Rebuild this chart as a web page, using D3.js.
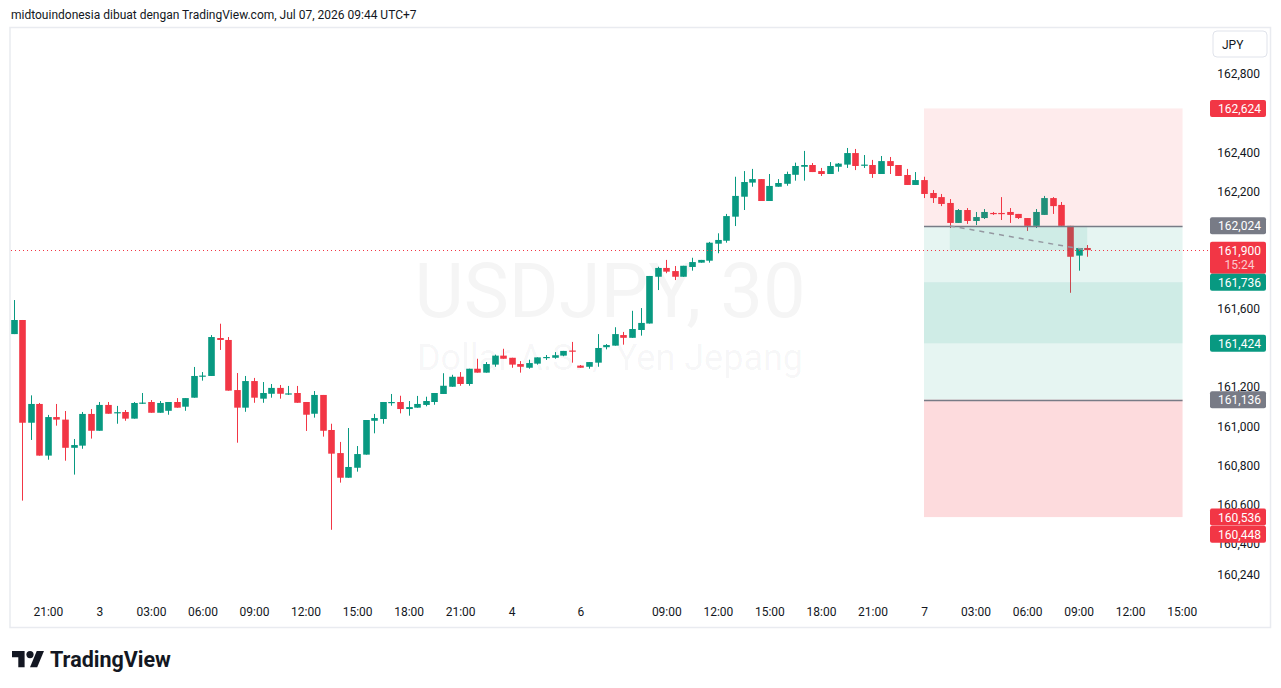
<!DOCTYPE html>
<html>
<head>
<meta charset="utf-8">
<script src="https://cdn.jsdelivr.net/npm/d3@7/dist/d3.min.js"></script>
<style>
  html, body { margin: 0; padding: 0; background: #fff; }
  svg { display: block; font-family: Roboto, "Noto Sans", sans-serif; }
</style>
</head>
<body>
<svg id="chart" width="1281" height="688"></svg>
<script>
'use strict';

// ── Data: USDJPY 30m candles, bar 0 = Jul 2 19:00 (UTC+7) ─────────────────
const opens  = [161.471,161.543,161.018,161.114,160.850,161.047,161.034,160.890,160.901,161.063,
                160.977,161.109,161.068,161.073,161.039,161.117,161.124,161.069,161.079,161.124,
                161.100,161.146,161.255,161.257,161.451,161.441,161.185,161.095,161.231,161.141,
                161.166,161.196,161.164,161.170,161.124,161.064,161.160,160.981,160.863,160.737,
                160.788,160.855,161.028,161.037,161.121,161.124,161.088,161.095,161.109,161.124,
                161.165,161.202,161.253,161.216,161.294,161.274,161.315,161.361,161.350,161.318,
                161.299,161.320,161.350,161.350,161.361,161.387,161.310,161.304,161.325,161.404,
                161.412,161.466,161.452,161.492,161.525,161.764,161.809,161.793,161.764,161.814,
                161.836,161.846,161.933,161.948,162.071,162.173,162.245,162.263,162.151,162.224,
                162.239,162.285,162.326,162.335,162.304,162.289,162.326,162.337,162.396,162.333,
                162.335,162.289,162.355,162.335,162.284,162.233,162.258,162.192,162.171,162.141,
                162.039,162.105,162.049,162.064,162.090,162.090,162.095,162.085,162.064,162.024,
                162.080,162.166,162.131,162.024,161.872,161.911];
const highs  = [161.645,161.543,161.158,161.119,161.058,161.114,161.078,160.935,161.073,161.088,
                161.124,161.124,161.104,161.083,161.124,161.170,161.134,161.129,161.124,161.144,
                161.144,161.303,161.277,161.466,161.524,161.456,161.272,161.257,161.247,161.226,
                161.216,161.211,161.206,161.206,161.124,161.180,161.160,161.013,160.920,160.991,
                160.899,161.032,161.063,161.124,161.165,161.156,161.129,161.155,161.151,161.170,
                161.271,161.263,161.277,161.294,161.345,161.328,161.366,161.396,161.350,161.333,
                161.340,161.352,161.364,161.379,161.385,161.431,161.313,161.328,161.471,161.420,
                161.506,161.482,161.590,161.604,161.768,161.815,161.850,161.819,161.820,161.861,
                161.850,161.942,161.986,162.085,162.275,162.304,162.315,162.263,162.289,162.263,
                162.301,162.347,162.407,162.345,162.320,162.350,162.345,162.422,162.417,162.386,
                162.361,162.381,162.376,162.335,162.315,162.299,162.275,162.207,162.187,162.161,
                162.110,162.115,162.095,162.110,162.095,162.171,162.115,162.085,162.064,162.110,
                162.177,162.171,162.146,162.024,161.911,161.926];
const lows   = [161.471,160.620,160.930,160.850,160.829,161.003,160.824,160.753,160.885,160.937,
                160.977,161.064,161.013,161.028,161.039,161.114,161.069,161.069,161.059,161.095,
                161.079,161.146,161.233,161.257,161.390,161.182,160.916,161.074,161.120,161.120,
                161.146,161.141,161.160,161.120,160.976,161.044,160.947,160.471,160.712,160.737,
                160.768,160.855,160.964,161.013,161.105,161.066,161.054,161.095,161.102,161.110,
                161.165,161.202,161.207,161.207,161.274,161.274,161.304,161.345,161.299,161.274,
                161.294,161.315,161.339,161.345,161.358,161.325,161.299,161.294,161.304,161.393,
                161.412,161.417,161.452,161.463,161.525,161.696,161.782,161.747,161.764,161.795,
                161.836,161.836,161.884,161.938,162.023,162.105,162.224,162.151,162.151,162.224,
                162.229,162.255,162.255,162.299,162.279,162.289,162.301,162.320,162.309,162.320,
                162.269,162.289,162.289,162.279,162.233,162.233,162.166,162.141,162.125,162.013,
                162.039,162.034,162.028,162.059,162.080,162.054,162.039,162.059,161.998,162.013,
                162.080,162.085,162.024,161.682,161.795,161.866];
const closes = [161.543,161.018,161.114,160.850,161.047,161.034,160.890,160.904,161.063,160.977,
                161.109,161.064,161.072,161.039,161.119,161.121,161.069,161.119,161.124,161.095,
                161.144,161.257,161.259,161.456,161.441,161.182,161.095,161.231,161.146,161.170,
                161.196,161.166,161.168,161.120,161.059,161.160,160.977,160.860,160.737,160.792,
                160.858,161.032,161.042,161.124,161.124,161.088,161.098,161.114,161.129,161.170,
                161.207,161.253,161.216,161.294,161.274,161.318,161.361,161.345,161.315,161.304,
                161.323,161.352,161.354,161.363,161.385,161.383,161.299,161.328,161.400,161.415,
                161.471,161.452,161.497,161.528,161.768,161.809,161.790,161.764,161.820,161.839,
                161.850,161.938,161.952,162.074,162.177,162.248,162.263,162.151,162.228,162.243,
                162.289,162.330,162.335,162.299,162.289,162.330,162.342,162.396,162.330,162.337,
                162.289,162.355,162.330,162.279,162.233,162.258,162.187,162.166,162.136,162.039,
                162.105,162.049,162.069,162.095,162.086,162.086,162.080,162.064,162.024,162.095,
                162.166,162.125,162.024,161.866,161.911,161.900];

const timeTickIdx    = [4, 10, 16, 22, 28, 34, 40, 46, 52, 58, 66, 76, 82, 88, 94, 100, 106, 112, 118, 124, 130, 136];
const timeTickLabels = ['21:00','3','03:00','06:00','09:00','12:00','15:00','18:00','21:00','4','6',
                        '09:00','12:00','15:00','18:00','21:00','7','03:00','06:00','09:00','12:00','15:00'];
const priceTicks     = [162.8, 162.4, 162.2, 161.6, 161.2, 161.0, 160.8, 160.6, 160.4, 160.24];

// position tools (short above, long below) spanning bars 106 → 136
const shortPos   = { entry: 162.024, stop: 162.624, target: 161.424 };
const longPos    = { entry: 161.136, stop: 160.536, target: 161.736 };
const posBars    = [106, 136.1];
const tradeBars  = [109, 125];
const lastPrice  = 161.900;
const countdown  = '15:24';
const extraLabel = 160.448;

const GREEN = '#089981', RED = '#f23645', GREY = '#787b86', TEXT = '#131722';
const fmt = v => d3.format('.3f')(v).replace('.', ',');

// ── Layout ────────────────────────────────────────────────────────────────
const svg = d3.select('#chart');
svg.append('rect').attr('width', 1281).attr('height', 688).attr('fill', '#fff');

const x = d3.scaleLinear().domain([0, 136]).range([13.5, 1181.7]);
const y = d3.scaleLinear().domain([160.24, 162.8]).range([575, 74]);

svg.append('defs').append('clipPath').attr('id', 'pane')
  .append('rect').attr('x', 11).attr('y', 28).attr('width', 1199).attr('height', 570);

svg.append('text')
  .attr('x', 11).attr('y', 19)
  .attr('font-size', 12).attr('fill', TEXT)
  .text('midtouindonesia dibuat dengan TradingView.com, Jul 07, 2026 09:44 UTC+7');

// chart frame
svg.append('rect')
  .attr('x', 10).attr('y', 27.5).attr('width', 1260.5).attr('height', 600)
  .attr('fill', 'none').attr('stroke', '#e9ebf0').attr('stroke-width', 1.5);

const pane = svg.append('g').attr('clip-path', 'url(#pane)');

// watermark
pane.append('text')
  .attr('x', 610).attr('y', 317).attr('text-anchor', 'middle')
  .attr('font-size', 76).attr('fill', 'rgba(19,23,34,0.045)')
  .text('USDJPY, 30');
pane.append('text')
  .attr('x', 610).attr('y', 370).attr('text-anchor', 'middle')
  .attr('font-size', 36).attr('fill', 'rgba(19,23,34,0.045)')
  .text('Dollar A.S. / Yen Jepang');

// ── Candles ───────────────────────────────────────────────────────────────
const bars = opens.map((o, i) => ({ i, o, h: highs[i], l: lows[i], c: closes[i] }));
const cg = pane.append('g');
cg.selectAll('line')
  .data(bars).join('line')
  .attr('x1', d => Math.round(x(d.i)) + 0.5).attr('x2', d => Math.round(x(d.i)) + 0.5)
  .attr('y1', d => y(d.h)).attr('y2', d => y(d.l))
  .attr('stroke', d => d.c >= d.o ? GREEN : RED).attr('stroke-width', 1);
cg.selectAll('rect')
  .data(bars).join('rect')
  .attr('x', d => Math.round(x(d.i)) + 0.5 - 3.3).attr('width', 6.6)
  .attr('y', d => y(Math.max(d.o, d.c)))
  .attr('height', d => Math.max(1.2, Math.abs(y(d.o) - y(d.c))))
  .attr('fill', d => d.c >= d.o ? GREEN : RED);

// ── Position zones (drawn over candles, translucent) ─────────────────────
const zx0 = x(posBars[0]), zx1 = x(posBars[1]);
function zone(p1, p2, fill) {
  pane.append('rect')
    .attr('x', zx0).attr('width', zx1 - zx0)
    .attr('y', y(Math.max(p1, p2))).attr('height', Math.abs(y(p1) - y(p2)))
    .attr('fill', fill);
}
zone(shortPos.entry, shortPos.stop, 'rgba(242,54,69,0.1)');
zone(shortPos.entry, shortPos.target, 'rgba(8,153,129,0.1)');
zone(longPos.entry, longPos.target, 'rgba(8,153,129,0.1)');
zone(longPos.entry, longPos.stop, 'rgba(242,54,69,0.18)');

// realised part of the short trade
pane.append('rect')
  .attr('x', x(tradeBars[0])).attr('width', x(tradeBars[1]) - x(tradeBars[0]))
  .attr('y', y(shortPos.entry)).attr('height', y(lastPrice) - y(shortPos.entry))
  .attr('fill', 'rgba(8,153,129,0.1)');

[shortPos.entry, longPos.entry].forEach(p => {
  pane.append('line')
    .attr('x1', zx0).attr('x2', zx1).attr('y1', Math.round(y(p)) + 0.5).attr('y2', Math.round(y(p)) + 0.5)
    .attr('stroke', GREY).attr('stroke-width', 1.5);
});

pane.append('line')
  .attr('x1', x(tradeBars[0])).attr('y1', y(shortPos.entry))
  .attr('x2', x(tradeBars[1])).attr('y2', y(lastPrice))
  .attr('stroke', '#9598a1').attr('stroke-width', 1.5).attr('stroke-dasharray', '5,5');

// current price line
svg.append('line')
  .attr('x1', 11).attr('x2', 1210)
  .attr('y1', Math.round(y(lastPrice)) + 0.5).attr('y2', Math.round(y(lastPrice)) + 0.5)
  .attr('stroke', RED).attr('stroke-width', 1).attr('stroke-dasharray', '1,3');

// ── Axes ──────────────────────────────────────────────────────────────────
const yAxis = svg.append('g').attr('transform', 'translate(1260,0)')
  .call(d3.axisLeft(y).tickValues(priceTicks).tickSize(0).tickPadding(0).tickFormat(fmt));
yAxis.select('.domain').remove();
yAxis.selectAll('text').attr('font-family', 'Roboto, sans-serif').attr('font-size', 12).attr('fill', TEXT);

const xAxis = svg.append('g').attr('transform', 'translate(0,607)')
  .call(d3.axisBottom(x).tickValues(timeTickIdx).tickSize(0).tickPadding(0)
    .tickFormat((d, i) => timeTickLabels[i]));
xAxis.select('.domain').remove();
xAxis.selectAll('text').attr('font-family', 'Roboto, sans-serif').attr('font-size', 12).attr('fill', TEXT);

// JPY button
svg.append('rect')
  .attr('x', 1213).attr('y', 31).attr('width', 54).attr('height', 26).attr('rx', 4)
  .attr('fill', '#fff').attr('stroke', '#e0e3eb');
svg.append('text')
  .attr('x', 1222).attr('y', 48.5).attr('font-size', 12).attr('fill', TEXT).text('JPY');

// ── Price labels on the axis ──────────────────────────────────────────────
function priceLabel(p, bg, h) {
  const yc = y(p);
  svg.append('rect')
    .attr('x', 1210).attr('y', yc - 8.5).attr('width', 56).attr('height', h || 17).attr('rx', 2)
    .attr('fill', bg);
  svg.append('text')
    .attr('x', 1239.5).attr('y', yc + 0.5).attr('text-anchor', 'middle').attr('dominant-baseline', 'central')
    .attr('font-size', 12).attr('fill', '#fff').text(fmt(p));
}
priceLabel(shortPos.stop, RED);
priceLabel(shortPos.entry, GREY);
priceLabel(lastPrice, RED, 32);
svg.append('text')
  .attr('x', 1239.5).attr('y', y(lastPrice) + 15).attr('text-anchor', 'middle').attr('dominant-baseline', 'central')
  .attr('font-size', 12).attr('fill', 'rgba(255,255,255,0.75)').text(countdown);
priceLabel(longPos.target, GREEN);
priceLabel(shortPos.target, GREEN);
priceLabel(longPos.entry, GREY);
priceLabel(longPos.stop, RED);
priceLabel(extraLabel, RED);

// ── TradingView logo ──────────────────────────────────────────────────────
const logo = svg.append('g').attr('transform', 'translate(12,647.4) scale(0.9)').attr('fill', TEXT);
logo.append('path').attr('d', 'M14 22H7V11H0V4h14v18z');
logo.append('path').attr('d', 'M28 22h-8l7.5-18h8L28 22z');
logo.append('circle').attr('cx', 20).attr('cy', 8).attr('r', 4);
svg.append('text')
  .attr('x', 50).attr('y', 667).attr('font-size', 21.5).attr('font-weight', 700)
  .attr('fill', TEXT).text('TradingView');
</script>
</body>
</html>
